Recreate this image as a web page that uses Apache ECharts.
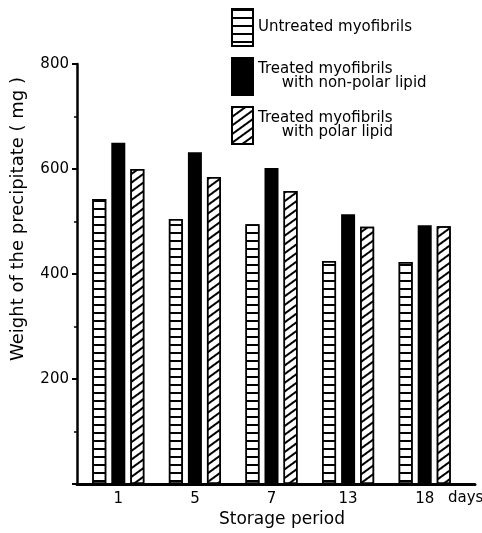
<!DOCTYPE html>
<html><head><meta charset="utf-8">
<script src="https://cdn.jsdelivr.net/npm/echarts@6/dist/echarts.min.js"></script>
<style>html,body{margin:0;padding:0;background:#fff}#c{width:482px;height:533px}</style>
</head><body><div id="c"></div>
<script>
var categories = ['1', '5', '7', '13', '18'];
var untreated = [543, 505, 495, 425, 423];
var nonPolar = [650, 632, 602, 514, 493];
var polar = [600, 585, 558, 490, 491];
var yTicks = [0, 200, 400, 600, 800];
var seriesNames = ['Untreated myofibrils', 'Treated myofibrils with non-polar lipid', 'Treated myofibrils with polar lipid'];

var FONT = 'DejaVu Sans';
var chart = echarts.init(document.getElementById('c'), null, {renderer: 'canvas'});
var barStyleBase = {borderColor: '#000', borderWidth: 1.5};
var option = {
  backgroundColor: '#fff',
  animation: false,
  textStyle: {fontFamily: FONT, color: '#000'},
  legend: {
    orient: 'vertical', left: 226, top: 3, itemWidth: 21, itemHeight: 37, itemGap: 10,
    icon: 'rect',
    data: seriesNames,
    textStyle: {fontFamily: FONT, fontSize: 15, color: '#000', lineHeight: 14},
    formatter: function (n) {
      if (n === seriesNames[1]) return 'Treated myofibrils\n     with non-polar lipid';
      if (n === seriesNames[2]) return 'Treated myofibrils\n     with polar lipid';
      return n;
    }
  },
  grid: [
    {left: 80, top: 64, width: 383, height: 420},
    {left: 77, top: 64, width: 398, height: 420}
  ],
  xAxis: [
    {type: 'category', gridIndex: 0, data: categories,
     axisLine: {show: false}, axisTick: {show: false},
     axisLabel: {fontFamily: FONT, fontSize: 15, color: '#000', margin: 8}},
    {type: 'value', gridIndex: 1, min: 0, max: 1,
     axisLine: {show: true, lineStyle: {color: '#000', width: 3}},
     axisTick: {show: false}, axisLabel: {show: false}, splitLine: {show: false},
     name: 'Storage period', nameLocation: 'middle', nameGap: 27,
     nameTextStyle: {fontFamily: FONT, fontSize: 17, color: '#000', padding: [0, 0, 0, 12]}}
  ],
  yAxis: [
    {type: 'value', gridIndex: 0, min: 0, max: 800, show: false},
    {type: 'value', gridIndex: 1, min: 0, max: 800, interval: 200,
     axisLine: {show: true, lineStyle: {color: '#000', width: 2.5}},
     axisTick: {show: true, inside: false, length: 5, lineStyle: {color: '#000', width: 2}},
     minorTick: {show: true, splitNumber: 2, length: 3, lineStyle: {color: '#000', width: 1.5}},
     splitLine: {show: false},
     axisLabel: {fontFamily: FONT, fontSize: 15, color: '#000', margin: 8,
       formatter: function (v) { return v === 0 ? '' : String(v); }},
     name: 'Weight of the precipitate ( mg )', nameLocation: 'middle', nameGap: 50, nameRotate: 90,
     nameTextStyle: {fontFamily: FONT, fontSize: 18, color: '#000', padding: [0, 0, 0, 110]}}
  ],
  graphic: [
    {type: 'text', left: 448, top: 491, style: {text: 'days', font: '15px "DejaVu Sans"', fill: '#000'}}
  ],
  series: [
    {name: seriesNames[0], type: 'bar', xAxisIndex: 0, yAxisIndex: 0, data: untreated,
     barWidth: 14, barGap: '36%',
     itemStyle: Object.assign({color: '#fff', decal: {symbol: 'rect', symbolSize: 1, dashArrayX: [1, 0], dashArrayY: [1.5, 6], rotation: 0, color: '#000'}}, barStyleBase)},
    {name: seriesNames[1], type: 'bar', xAxisIndex: 0, yAxisIndex: 0, data: nonPolar,
     barWidth: 14, itemStyle: {color: '#000', borderColor: '#000', borderWidth: 2}},
    {name: seriesNames[2], type: 'bar', xAxisIndex: 0, yAxisIndex: 0, data: polar,
     barWidth: 14,
     itemStyle: Object.assign({color: '#fff', decal: {symbol: 'rect', symbolSize: 1, dashArrayX: [1, 0], dashArrayY: [1.5, 5], rotation: -Math.PI / 5, color: '#000'}}, barStyleBase)}
  ]
};
chart.setOption(option);
</script></body></html>
